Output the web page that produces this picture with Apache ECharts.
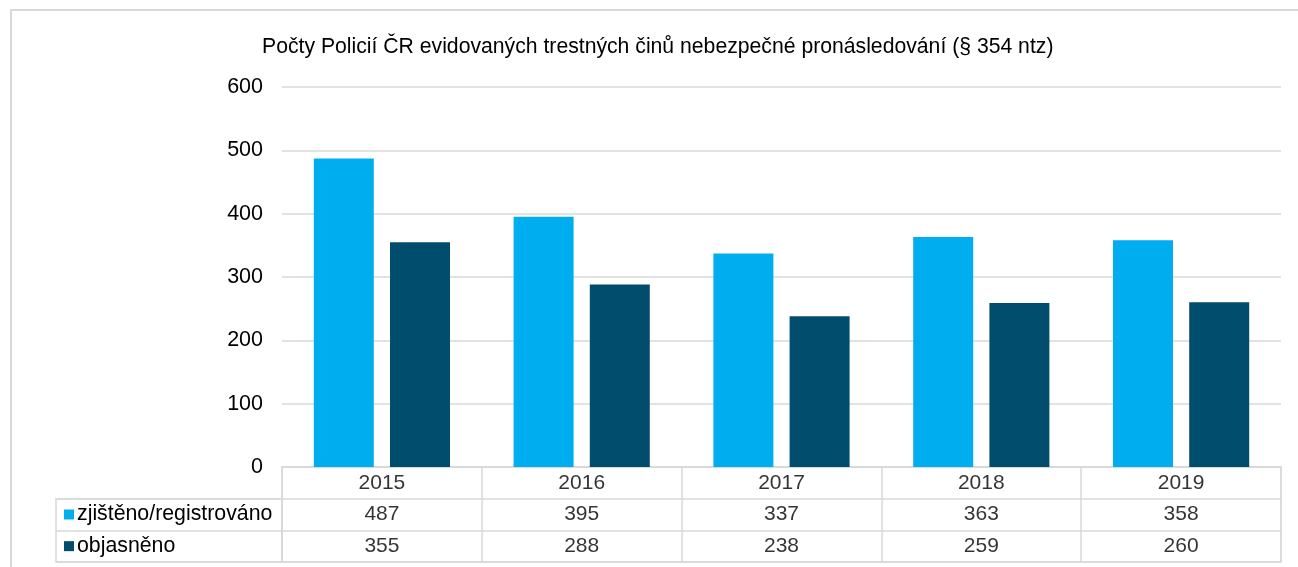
<!DOCTYPE html>
<html>
<head>
<meta charset="utf-8">
<script src="https://cdn.jsdelivr.net/npm/echarts@6/dist/echarts.min.js"></script>
<style>
html,body{margin:0;padding:0;background:#fff;}
#wrap{position:relative;width:1298px;height:567px;overflow:hidden;}
#frame{position:absolute;left:10px;top:9px;width:1300px;height:570px;border-left:2px solid #d9d9d9;border-top:2px solid #d9d9d9;pointer-events:none;}
#chart{position:absolute;left:0;top:0;width:1298px;height:567px;}
</style>
</head>
<body>
<div id="wrap"><div id="frame"></div><div id="chart"></div></div>
<script>
const titleText = 'Počty Policií ČR evidovaných trestných činů nebezpečné pronásledování (§ 354 ntz)';
const categories = ['2015', '2016', '2017', '2018', '2019'];
const seriesNames = ['zjištěno/registrováno', 'objasněno'];
const registered = [487, 395, 337, 363, 358];
const solved = [355, 288, 238, 259, 260];
const yTicks = [0, 100, 200, 300, 400, 500, 600];

const colors = ['#00AEEF', '#004D6D'];
const lineColor = '#d9d9d9';
const font = 'Liberation Sans, Arial, sans-serif';

const tableData = [];
categories.forEach((c, i) => {
  tableData.push([i, 0, c]);
  tableData.push([i, 1, registered[i]]);
  tableData.push([i, 2, solved[i]]);
});

const gTop = 87, gBottomY = 467, tableBottom = 562;
const rowH = (tableBottom - gBottomY) / 3;

const chart = echarts.init(document.getElementById('chart'));
chart.setOption({
  animation: false,
  textStyle: { fontFamily: font },
  title: {
    text: titleText, left: 257, top: 32,
    textStyle: { fontFamily: font, fontSize: 21.2, fontWeight: 'normal', color: '#000' }
  },
  grid: [
    { left: 282, right: 17, top: gTop, height: gBottomY - gTop },
    { left: 282, right: 17, top: gBottomY, height: tableBottom - gBottomY, show: true, borderColor: lineColor, borderWidth: 1.5, backgroundColor: 'transparent' },
    { left: 56, width: 226, top: gBottomY + rowH, height: rowH * 2, show: true, borderColor: lineColor, borderWidth: 1.5, backgroundColor: 'transparent' }
  ],
  xAxis: [
    { gridIndex: 0, type: 'category', data: categories,
      axisLine: { show: true, lineStyle: { color: lineColor, width: 1.5 } },
      axisTick: { show: false }, axisLabel: { show: false } },
    { gridIndex: 1, type: 'category', data: categories,
      axisLine: { show: false }, axisTick: { show: false }, axisLabel: { show: false, interval: 0 },
      splitLine: { show: true, interval: 0, lineStyle: { color: lineColor, width: 1.5 } } },
    { gridIndex: 2, type: 'value', show: false }
  ],
  yAxis: [
    { gridIndex: 0, type: 'value', min: 0, max: 600, interval: 100,
      axisLine: { show: false }, axisTick: { show: false },
      axisLabel: { margin: 19, fontSize: 21.5, color: '#000', fontFamily: font },
      splitLine: { show: true, lineStyle: { color: lineColor, width: 1.5 } } },
    { gridIndex: 1, type: 'category', inverse: true, data: ['rok'].concat(seriesNames),
      axisLine: { show: false }, axisTick: { show: false }, axisLabel: { show: false, interval: 0 },
      splitLine: { show: true, interval: 0, lineStyle: { color: lineColor, width: 1.5 } } },
    { gridIndex: 2, type: 'category', inverse: true, data: seriesNames,
      axisLine: { show: false }, axisTick: { show: false },
      axisLabel: {
        inside: true, margin: 8, interval: 0, align: 'left',
        formatter: (v, i) => '{s' + i + '|}{t|' + v + '}',
        rich: {
          s0: { width: 10, height: 10, backgroundColor: colors[0] },
          s1: { width: 10, height: 10, backgroundColor: colors[1] },
          t: { fontSize: 21.3, color: '#000', fontFamily: font, padding: [0, 0, 0, 3] }
        }
      },
      splitLine: { show: true, interval: 0, lineStyle: { color: lineColor, width: 1.5 } } }
  ],
  series: [
    { name: seriesNames[0], type: 'bar', xAxisIndex: 0, yAxisIndex: 0, data: registered,
      barWidth: 60, barGap: '27%', itemStyle: { color: colors[0] } },
    { name: seriesNames[1], type: 'bar', xAxisIndex: 0, yAxisIndex: 0, data: solved,
      barWidth: 60, barGap: '27%', itemStyle: { color: colors[1] } },
    { type: 'scatter', xAxisIndex: 1, yAxisIndex: 1, data: tableData, symbolSize: 0,
      label: { show: true, position: 'inside', formatter: p => String(p.value[2]),
        fontSize: 21, color: '#000', fontFamily: font } }
  ]
});
</script>
</body>
</html>
